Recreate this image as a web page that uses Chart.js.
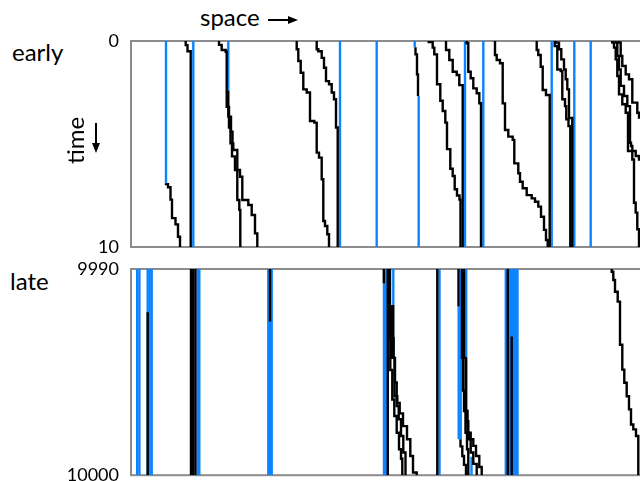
<!DOCTYPE html>
<html>
<head>
<meta charset="utf-8">
<script src="https://cdn.jsdelivr.net/npm/chart.js@4.4.1/dist/chart.umd.min.js"></script>
<style>
  html, body { margin: 0; padding: 0; background: #fff; overflow: hidden; }
  body { width: 640px; height: 481px; position: relative; font-family: Lato, sans-serif; }
  canvas { position: absolute; left: 0; }
  #earlyChart { top: 0; }
  #lateChart { top: 250px; }
  .label { position: absolute; font-size: 24px; line-height: 24px; color: #000; white-space: nowrap; }
  .turned { transform-origin: 0 0; transform: rotate(-90deg); will-change: transform; }
  svg { position: absolute; }
</style>
</head>
<body>
<div class="label" style="left:200px; top:5px;">space</div>
<svg style="left:266px; top:13px;" width="34" height="14">
  <line x1="2" y1="7" x2="24" y2="7" stroke="#000" stroke-width="2"/>
  <polygon points="22,3 32,7 22,11" fill="#000"/>
</svg>
<div class="label" style="left:12px; top:40px;">early</div>
<div class="label" style="left:10px; top:269px;">late</div>
<div class="label turned" style="left:63px; top:164px;">time</div>
<svg style="left:89px; top:121px;" width="14" height="34">
  <line x1="7" y1="2" x2="7" y2="24" stroke="#000" stroke-width="2"/>
  <polygon points="3,22 7,32 11,22" fill="#000"/>
</svg>
<canvas id="earlyChart" width="660" height="262"></canvas>
<canvas id="lateChart" width="660" height="240"></canvas>
<script>
const earlyTime = [0, 10];
const lateTime = [9990, 10000];
const spaceRange = [0, 510];

// stuck particles (blue): [site, from, to]
const earlyStuck = [
  [35, 0, 6.9], [62.3, 0, 10], [97.3, 0, 2.4], [209, 0, 10], [245.7, 0, 10],
  [283.7, 0, 0.3], [287.7, 2.67, 10], [334, 0, 10], [352.3, 0, 10],
  [420.7, 0, 10], [443.3, 0, 10], [459.7, 0, 10]
];

// moving particles (black): [time, site] hops, last entry is where the track stops
const earlyMoving = [
  [[6.9, 35], [6.95, 37], [7.1, 39.5], [7.7, 41], [8.6, 44.5], [8.9, 47], [9.5, 49], [10, 49]],
  [[0, 54.7], [0.2, 56.5], [0.5, 59.7], [10, 59.7]],
  [[0, 88], [0.19, 90.7], [0.44, 94.7], [0.52, 95.7], [3.2, 98], [4.2, 99.5], [4.97, 101], [5.6, 104], [6.26, 106.3], [7.72, 108.3], [8.2, 109.3], [10, 109.3]],
  [[2.4, 97.3], [3.67, 100], [4.4, 101.5], [4.97, 102.3], [5.29, 106.3], [6.26, 109], [6.59, 111.3], [7.72, 117.3], [7.96, 120.7], [8.45, 124], [9.34, 126.3], [10, 126.3]],
  [[0, 165.7], [0.4, 167.3], [0.97, 169.7], [1.54, 172.3], [2.35, 175.7], [2.5, 179], [3.88, 183.3], [3.96, 185.7], [5.42, 188], [5.66, 190.7], [6.71, 192.3], [8.74, 194], [8.98, 196.3], [9.38, 198], [10, 198]],
  [[0, 185.7], [0.4, 187.3], [0.5, 190.7], [0.82, 193], [1.3, 195], [1.95, 198], [2.1, 200.7], [2.5, 203], [2.83, 205], [4.2, 206.7], [10, 206.7]],
  [[0.3, 284.5], [0.65, 286], [1.62, 287], [2.67, 287]],
  [[0, 297.7], [0.05, 301.7], [0.32, 303.3], [0.65, 306], [2.1, 309.3], [2.9, 311.7], [3.4, 314.3], [3.96, 316], [5.25, 319.3], [6.2, 321.7], [6.55, 323.7], [7.2, 326], [7.5, 328.5], [7.7, 329.5], [10, 329.5]],
  [[0, 315], [0.44, 318.3], [0.92, 321.7], [1.49, 325.7], [1.65, 328.3], [2.14, 331.7], [10, 331.7]],
  [[0, 335.7], [0.11, 337.3], [1.49, 339.7], [1.81, 342.3], [2.3, 345.7], [2.54, 348.3], [3.02, 350], [10, 350]],
  [[0, 364], [0.68, 365.7], [0.92, 369], [1.08, 371.7], [3.03, 374], [4.32, 377.3], [4.64, 381.7], [4.8, 383.3], [5.94, 387.3], [6.42, 389], [6.83, 391.7], [7.15, 395.7], [7.48, 400.7], [7.64, 404], [7.8, 407.3], [8.04, 410], [8.53, 413], [9.17, 415], [9.66, 416.7], [10, 416.7]],
  [[0, 405.7], [0.44, 407.3], [0.68, 409.7], [1.25, 411.7], [2.38, 415], [2.62, 418.7], [10, 418.7]],
  [[0, 423.7], [0.24, 426.3], [1.38, 429.7], [1.46, 431.3], [2.83, 434], [3.16, 435.3], [3.8, 437.5], [4.13, 439.3], [10, 439.3]],
  [[0, 424.7], [0.08, 428], [0.4, 430.3], [0.89, 433], [1.38, 434.7], [1.86, 436.3], [2.35, 438], [3.74, 441.3], [10, 441.3]],
  [[0, 481.3], [0.08, 483], [0.32, 484.7], [0.89, 486.3], [1.7, 488], [2.59, 491.3], [3.07, 494.7], [3.48, 497], [5.34, 501.3], [5.75, 503], [7.85, 504.7], [8.33, 506.3], [9.14, 508], [10, 508]],
  [[0, 484.7], [0.08, 486.3], [0.73, 488], [1.38, 489.7], [2.18, 493], [2.67, 496.3], [3.16, 499], [4.94, 500], [5.1, 501.3], [5.34, 504.7], [5.58, 508], [5.75, 514]],
  [[0, 488], [0.08, 489.7], [0.73, 491.3], [1.21, 494.7], [1.62, 498], [1.86, 501.3], [2.99, 506.3], [3.48, 508], [3.72, 514]]
];

const lateStuck = [
  [6.2, 9990, 10000], [8.4, 9990, 10000],
  [16.7, 9990, 10000], [18.7, 9990, 10000], [20.7, 9990, 10000],
  [66.7, 9990, 10000], [68.3, 9990, 10000],
  [137.3, 9990, 10000], [139, 9990, 10000], [140.7, 9990, 10000],
  [253, 9990.7, 10000], [254.8, 9990, 10000], [262.3, 9990, 9991.74],
  [308.5, 9990, 10000],
  [327.7, 9991.82, 9998.26], [329.7, 9990, 9998.26], [335.2, 9990, 9994.31], [340.5, 9999.1, 10000],
  [374.8, 9990, 10000], [379, 9990, 10000], [381, 9990, 10000], [383, 9990, 10000], [385, 9990, 10000], [386.5, 9990, 10000]
];

const lateMoving = [
  [[9992.1, 16.7], [10000, 16.7]],
  [[9990, 60], [10000, 60]],
  [[9990, 62.2], [10000, 62.2]],
  [[9990, 64.4], [10000, 64.4]],
  [[9990, 139], [9992.55, 139]],
  [[9990, 252.8], [9990.7, 252.8]],
  [[9990, 256.8], [10000, 256.8]],
  [[9990, 259], [9993.35, 259.3], [9994.9, 261.3], [9996.33, 263.3], [9997.13, 265.7], [9997.94, 268], [9998.74, 270], [9999.2, 271.3], [10000, 271.3]],
  [[9991.74, 262.3], [9993.35, 262.7], [9994.31, 264], [9995.5, 265.7], [9996.65, 267.7], [9997.29, 270], [9998.1, 272.3], [9998.9, 274.5], [10000, 274.5]],
  [[9991.74, 260.8], [9994.31, 263.5], [9996.17, 266.3], [9996.5, 268.7], [9997, 272], [9997.62, 276], [9998.26, 279.3], [9999.07, 282], [9999.87, 285.7], [10000, 285.7]],
  [[9990, 306.3], [10000, 306.3]],
  [[9990, 327.5], [9991.82, 327.5]],
  [[9990, 331], [9994.31, 332], [9995.9, 333], [9996.89, 334.5], [9997.94, 336], [9998.74, 337.3], [10000, 337.3]],
  [[9990, 333], [9994.31, 334.5], [9996.89, 336], [9997.38, 337.3], [9997.94, 339.7], [9998.26, 342.3], [9998.58, 345], [9999.07, 348.3], [9999.6, 350.7], [10000, 350.7]],
  [[9994.31, 335.2], [9996.89, 336.5], [9997.94, 338], [9998.26, 339.7], [9998.9, 342.3], [9999.45, 345.7], [10000, 345.7]],
  [[9998.26, 329.5], [9998.6, 331.3], [9999.07, 333], [9999.5, 335], [10000, 335]],
  [[9990, 376.8], [10000, 376.8]],
  [[9993.27, 380.7], [10000, 380.7]],
  [[9990, 480.7], [9990.13, 482.3], [9990.53, 484], [9991.1, 486.7], [9991.58, 489], [9993.67, 491.3], [9994.88, 493.3], [9995.52, 495.7], [9996.17, 498], [9996.81, 500], [9997.54, 502.3], [9997.78, 505], [9998.1, 507.3], [10000, 507.3]]
];

const stuckColor = '#0d84ff';
const movingColor = '#000000';
const trackWidth = 2.4;

Chart.defaults.font.family = 'Lato, sans-serif';

// gray box round the plot area
const frame = {
  id: 'frame',
  beforeDatasetsDraw(chart) {
    const { ctx, chartArea: a } = chart;
    ctx.save();
    ctx.strokeStyle = '#8c8c8c';
    ctx.lineWidth = 2;
    ctx.strokeRect(a.left, a.top, a.right - a.left, a.bottom - a.top);
    ctx.restore();
  }
};

function buildDatasets(stuck, moving) {
  const sets = [];
  moving.forEach(track => {
    sets.push({
      data: track.map(([t, s]) => ({ x: s, y: t })),
      borderColor: movingColor,
      borderWidth: trackWidth,
      stepped: 'after',
      order: 0
    });
  });
  stuck.forEach(([s, from, to]) => {
    sets.push({
      data: [{ x: s, y: from }, { x: s, y: to }],
      borderColor: stuckColor,
      borderWidth: trackWidth,
      order: 1
    });
  });
  return sets;
}

function makeChart(id, time, stuck, moving, padTop, padBottom) {
  return new Chart(document.getElementById(id), {
    type: 'line',
    data: { datasets: buildDatasets(stuck, moving) },
    options: {
      responsive: false,
      animation: false,
      layout: { padding: { top: padTop, bottom: padBottom, left: 0, right: 19 } },
      elements: { point: { radius: 0 }, line: { tension: 0, fill: false } },
      plugins: { legend: { display: false }, tooltip: { enabled: false } },
      scales: {
        x: { type: 'linear', min: spaceRange[0], max: spaceRange[1], display: false },
        y: {
          type: 'linear',
          min: time[0],
          max: time[1],
          reverse: true,
          grid: { display: false },
          border: { display: false },
          ticks: { color: '#000', font: { size: 18 }, padding: 4, callback: v => String(v) },
          afterBuildTicks: scale => { scale.ticks = time.map(v => ({ value: v })); },
          afterFit: scale => { scale.width = 131; }
        }
      }
    },
    plugins: [frame]
  });
}

makeChart('earlyChart', earlyTime, earlyStuck, earlyMoving, 41, 15);
makeChart('lateChart', lateTime, lateStuck, lateMoving, 19, 14);
</script>
</body>
</html>
